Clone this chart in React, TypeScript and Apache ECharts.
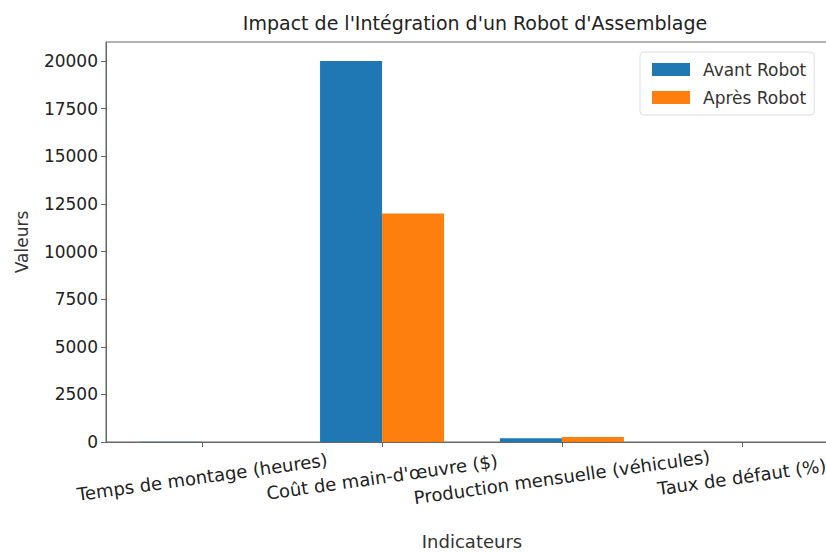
import React, { useEffect, useRef } from "react";
import * as echarts from "echarts";

const categories = [
  "Temps de montage (heures)",
  "Coût de main-d'œuvre ($)",
  "Production mensuelle (véhicules)",
  "Taux de défaut (%)",
];
const avantRobot = [10, 20000, 200, 5];
const apresRobot = [6, 12000, 260, 1];
const yTicks = { min: 0, max: 21000, interval: 2500 };

const FONT = "'DejaVu Sans', sans-serif";

export default function App() {
  const ref = useRef<HTMLDivElement>(null);
  useEffect(() => {
    if (!ref.current) return;
    const chart = echarts.init(ref.current, undefined, { renderer: "svg" });
    const idx = categories.map((_, i) => i);
    chart.setOption({
      animation: false,
      textStyle: { fontFamily: FONT },
      title: {
        text: "Impact de l'Intégration d'un Robot d'Assemblage",
        left: 470,
        textAlign: "center",
        top: 8,
        textStyle: { fontFamily: FONT, fontSize: 19, fontWeight: "normal", color: "#222" },
      },
      legend: {
        orient: "vertical",
        left: 640,
        top: 52,
        icon: "rect",
        itemWidth: 38,
        itemHeight: 13,
        itemGap: 11,
        padding: [9, 8, 9, 12],
        borderColor: "#ddd",
        borderWidth: 1,
        borderRadius: 4,
        textStyle: { fontFamily: FONT, fontSize: 17, color: "#333", padding: [0, 0, 0, 8] },
        data: ["Avant Robot", "Après Robot"],
      },
      grid: {
        left: 106,
        right: -12,
        top: 42,
        bottom: 110,
        outerBoundsMode: "none",
        containLabel: false,
        show: true,
        borderColor: "#666",
        borderWidth: 1,
      },
      xAxis: {
        type: "value",
        min: -0.535,
        max: 3.535,
        name: "Indicateurs",
        nameLocation: "middle",
        nameGap: 90,
        nameTextStyle: { fontFamily: FONT, fontSize: 18, color: "#333" },
        splitLine: { show: false },
        axisLine: { show: true, onZero: false, lineStyle: { color: "#666" } },
        axisTick: { show: true, customValues: idx, length: 5, lineStyle: { color: "#666" } },
        axisLabel: {
          customValues: idx,
          formatter: (v: number) => categories[Math.round(v)] ?? "",
          rotate: 8,
          align: "center",
          verticalAlign: "middle",
          margin: 35,
          fontFamily: FONT,
          fontSize: 18,
          color: "#222",
        },
      },
      yAxis: {
        type: "value",
        min: yTicks.min,
        max: yTicks.max,
        interval: yTicks.interval,
        name: "Valeurs",
        nameLocation: "middle",
        nameGap: 76,
        nameTextStyle: { fontFamily: FONT, fontSize: 17, color: "#333" },
        splitLine: { show: false },
        axisLine: { show: true, onZero: false, lineStyle: { color: "#666" } },
        axisTick: { show: true, length: 5, lineStyle: { color: "#666" } },
        axisLabel: {
          showMaxLabel: false,
          formatter: (v: number) => String(v),
          margin: 8,
          fontFamily: FONT,
          fontSize: 17,
          color: "#222",
        },
      },
      series: [
        {
          name: "Avant Robot",
          type: "bar",
          barWidth: 62,
          barGap: "0%",
          itemStyle: { color: "#1f77b4" },
          data: avantRobot.map((v, i) => [i, v]),
        },
        {
          name: "Après Robot",
          type: "bar",
          barWidth: 62,
          barGap: "0%",
          itemStyle: { color: "#ff7f0e" },
          data: apresRobot.map((v, i) => [i, v]),
        },
      ],
    });
    return () => chart.dispose();
  }, []);
  return (
    <div
      ref={ref}
      style={{ position: "fixed", left: 0, top: 0, width: 826, height: 552, background: "#fff" }}
    />
  );
}
